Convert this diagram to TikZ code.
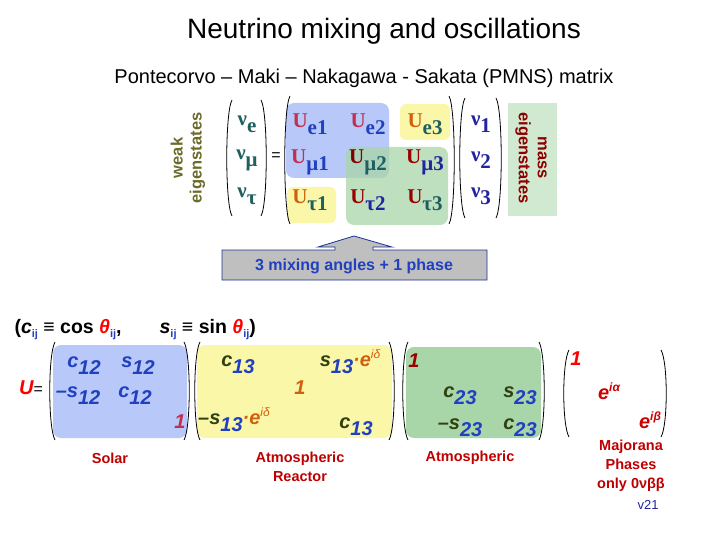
\documentclass[tikz,border=0pt]{standalone}
\usepackage{fontspec}
\setmainfont{Liberation Sans}
\newfontfamily\serifb{Liberation Serif}
\begin{document}
\begin{tikzpicture}[x=1pt,y=-1pt,
 lp/.style={line width=0.8pt},
 ent/.style={font=\bfseries\itshape\fontsize{20}{20}\selectfont},
 lab/.style={font=\bfseries\fontsize{14.5}{19}\selectfont,text=red!75!black,align=center},
 Uent/.style={font=\serifb\bfseries\fontsize{21}{21}\selectfont}]
\useasboundingbox (0,0) rectangle (720,540);
\definecolor{ublue}{HTML}{B8C8F8}
\definecolor{uyel}{HTML}{FBF7A8}
\definecolor{ugreen}{HTML}{A9D6A9}
\definecolor{teal}{HTML}{1F5F5F}
\definecolor{olive}{HTML}{6B6B2A}
\definecolor{nblue}{HTML}{2323A0}
\definecolor{ured}{HTML}{C03050}
\definecolor{uor}{HTML}{D06010}
\definecolor{sblue}{HTML}{2040C0}
\definecolor{dgreen}{HTML}{304010}
\newcommand\lpar[3]{\draw[lp] (#1+7,#2) .. controls (#1,#2+12) and (#1,#3-12) .. (#1+7,#3);}
\newcommand\rpar[3]{\draw[lp] (#1-7,#2) .. controls (#1,#2+12) and (#1,#3-12) .. (#1-7,#3);}
\newcommand\su[2]{\raisebox{-7pt}{\textcolor{#1}{#2}}}
\newcommand\UU[4]{\textcolor{#1}{#2}\su{#3}{#4}}
\node (title) at (384,31) {\fontsize{28}{28}\selectfont Neutrino mixing and oscillations};
\node (sub) at (364,78) {\fontsize{20}{20}\selectfont Pontecorvo -- Maki -- Nakagawa - Sakata (PMNS) matrix};
\node[rotate=90,align=center,text=olive,font=\bfseries\fontsize{16.5}{19}\selectfont] (weak) at (188,158) {weak\\eigenstates};
\fill[ublue,rounded corners=8pt] (286,103) rectangle (389,178);
\fill[uyel,rounded corners=6pt] (400,104) rectangle (450,140);
\fill[uyel,rounded corners=6pt] (287,187) rectangle (336,223);
\fill[ugreen,opacity=0.75,rounded corners=8pt] (346,147) rectangle (448,225);
\fill[ugreen!55] (508,103) rectangle (557,216);
\node[rotate=-90,align=center,text=red!55!black,font=\bfseries\fontsize{16.5}{19}\selectfont] (mass) at (531,158) {mass\\eigenstates};
\lpar{225}{100}{216}\rpar{268}{100}{216}
\lpar{283}{96}{224}\rpar{456}{96}{224}
\lpar{458}{98}{218}\rpar{503}{98}{218}
\node[Uent] (ne) at (247,124) {\UU{teal}{ν}{teal}{e}};
\node[Uent] (nm) at (247,160) {\UU{teal}{ν}{teal}{μ}};
\node[Uent] (nt) at (247,196) {\UU{teal}{ν}{teal}{τ}};
\node (eq) at (276,157) {\fontsize{16}{16}\selectfont =};
\node[Uent] (u11) at (310,124) {\UU{ured}{U}{sblue}{e1}};
\node[Uent] (u12) at (368,124) {\UU{ured}{U}{sblue}{e2}};
\node[Uent] (u13) at (425,124) {\UU{uor}{U}{teal}{e3}};
\node[Uent] (u21) at (310,162) {\UU{ured}{U}{sblue}{μ1}};
\node[Uent] (u22) at (368,162) {\UU{red!50!black}{U}{teal}{μ2}};
\node[Uent] (u23) at (425,162) {\UU{red!60!black}{U}{nblue}{μ3}};
\node[Uent] (u31) at (310,200) {\UU{uor}{U}{teal}{τ1}};
\node[Uent] (u32) at (368,200) {\UU{red!60!black}{U}{nblue}{τ2}};
\node[Uent] (u33) at (425,200) {\UU{red!60!black}{U}{teal}{τ3}};
\node[Uent] (n1) at (481,124) {\UU{nblue}{ν}{nblue}{1}};
\node[Uent] (n2) at (481,160) {\UU{nblue}{ν}{nblue}{2}};
\node[Uent] (n3) at (481,196) {\UU{nblue}{ν}{nblue}{3}};
\draw[fill=gray!50,draw=sblue!80!black,line width=0.8pt] (222,280) -- (222,250) -- (335,250) -- (335,247) -- (318,247) -- (354,236) -- (392,247) -- (373,247) -- (373,250) -- (487,250) -- (487,280) -- cycle;
\node[text=sblue,font=\bfseries\fontsize{16}{16}\selectfont] (ang) at (354,266) {3 mixing angles + 1 phase};
\newcommand\myij{\raisebox{-4pt}{\textcolor{sblue}{\fontsize{11}{11}\selectfont ij}}}
\node[anchor=west,font=\bfseries\fontsize{19.5}{19}\selectfont] (def) at (11,330) {(\textit{c}\myij\ ≡ cos \textcolor{red}{\textit{θ}}\myij,\hspace{38pt}\textit{s}\myij\ ≡ sin \textcolor{red}{\textit{θ}}\myij)};
\fill[ublue,rounded corners=8pt] (53,345) rectangle (187,438);
\fill[uyel,rounded corners=8pt] (197,345) rectangle (392,438);
\fill[ugreen,rounded corners=8pt] (406,347) rectangle (541,438);
\lpar{48}{342}{440}\rpar{191}{342}{440}
\lpar{193}{342}{440}\rpar{396}{342}{440}
\lpar{401}{342}{440}\rpar{546}{342}{440}
\lpar{562}{350}{437}\rpar{668}{350}{437}
\node[ent] (U) at (31,388) {\textcolor{red}{U}\textnormal{\fontsize{16}{16}\selectfont=}};
\newcommand\ce[3]{\textcolor{#1}{#2}\raisebox{-7pt}{\textcolor{sblue}{#3}}}
\newcommand\eid{\textcolor{uor}{·e\raisebox{8pt}{\fontsize{12}{12}\selectfont\mdseries iδ}}}
\node[ent] (a11) at (84,366) {\ce{sblue}{c}{12}};
\node[ent] (a12) at (138,366) {\ce{sblue}{s}{12}};
\node[ent] (a21) at (78,396) {\ce{sblue}{–s}{12}};
\node[ent] (a22) at (135,396) {\ce{sblue}{c}{12}};
\node[ent,text=ured] (a33) at (180,422) {1};
\node[ent] (b11) at (238,365) {\ce{dgreen}{c}{13}};
\node[ent] (b13) at (350,362) {\ce{dgreen}{s}{13}\eid};
\node[ent,text=uor] (b22) at (300,388) {1};
\node[ent] (b31) at (234,420) {\ce{dgreen}{–s}{13}\eid};
\node[ent] (b33) at (356,427) {\ce{dgreen}{c}{13}};
\node[ent,text=red!60!black] (c11) at (414,361) {1};
\node[ent] (c22) at (460,396) {\ce{dgreen}{c}{23}};
\node[ent] (c23) at (520,396) {\ce{dgreen}{s}{23}};
\node[ent] (c32) at (460,428) {\ce{dgreen}{–s}{23}};
\node[ent] (c33) at (520,428) {\ce{dgreen}{c}{23}};
\node[ent,text=red] (d11) at (576,359) {1};
\node[ent,text=red!80!black] (d22) at (609,391) {e\raisebox{8pt}{\fontsize{12}{12}\selectfont iα}};
\node[ent,text=red!80!black] (d33) at (650,420) {e\raisebox{8pt}{\fontsize{12}{12}\selectfont iβ}};
\node[lab] (solar) at (110,458) {Solar};
\node[lab] (atr) at (300,467) {Atmospheric\\Reactor};
\node[lab] (atm) at (470,458) {Atmospheric};
\node[lab] (maj) at (631,466) {Majorana\\Phases\\only 0νββ};
\node[text=nblue,font=\fontsize{13}{13}\selectfont] (v21) at (648,505) {v21};
\end{tikzpicture}
\end{document}
